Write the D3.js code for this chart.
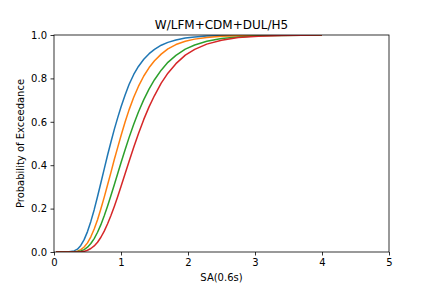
<!DOCTYPE html>
<html lang="en">
<head>
  <meta charset="UTF-8" />
  <title>W/LFM+CDM+DUL/H5</title>
  <script src="https://d3js.org/d3.v7.min.js"></script>
  <style>
    body { margin: 0; background: #fff; font-family: "DejaVu Sans", sans-serif; }
    svg { display: block; }
  </style>
</head>
<body>
<svg width="432" height="288"></svg>
<script>
// SA(0.6s) sample points shared by all curves
const sa = [0.03, 0.1, 0.2, 0.3, 0.35, 0.4, 0.45, 0.5, 0.55, 0.6, 0.65, 0.7, 0.75, 0.8, 0.85, 0.9, 0.95, 1.0,
            1.06, 1.12, 1.19, 1.26, 1.34, 1.42, 1.5, 1.6, 1.7, 1.82, 1.96, 2.1, 2.28, 2.5, 2.75, 3.05, 3.4, 4.0];

const blue = [0, 0, 0.0001, 0.005, 0.013, 0.030, 0.057, 0.094, 0.141, 0.195, 0.256, 0.319, 0.383, 0.447, 0.507, 0.565, 0.618, 0.668,
              0.722, 0.772, 0.818, 0.855, 0.888, 0.914, 0.934, 0.953, 0.966, 0.977, 0.986, 0.991, 0.995, 0.997, 0.9985, 0.9994, 0.9998, 1.0];
const orange = [0, 0, 0, 0.001, 0.004, 0.011, 0.023, 0.042, 0.070, 0.106, 0.149, 0.199, 0.253, 0.310, 0.367, 0.426, 0.481, 0.536,
                0.598, 0.655, 0.713, 0.763, 0.811, 0.850, 0.881, 0.912, 0.936, 0.956, 0.971, 0.981, 0.989, 0.994, 0.997, 0.9986, 0.9996, 1.0];
const green = [0, 0, 0, 0.0004, 0.002, 0.005, 0.011, 0.022, 0.039, 0.062, 0.091, 0.126, 0.167, 0.212, 0.260, 0.310, 0.361, 0.411,
               0.470, 0.527, 0.589, 0.645, 0.702, 0.752, 0.794, 0.838, 0.874, 0.906, 0.935, 0.954, 0.971, 0.984, 0.991, 0.996, 0.998, 0.9996];
const red = [0, 0, 0, 0.0001, 0.0004, 0.001, 0.003, 0.008, 0.016, 0.028, 0.045, 0.068, 0.096, 0.130, 0.168, 0.210, 0.255, 0.302,
             0.359, 0.417, 0.483, 0.545, 0.611, 0.670, 0.721, 0.778, 0.824, 0.868, 0.907, 0.934, 0.958, 0.976, 0.988, 0.994, 0.998, 0.9995];

const series = [
  { name: "1", values: blue, color: "#1f77b4" },
  { name: "2", values: orange, color: "#ff7f0e" },
  { name: "3", values: green, color: "#2ca02c" },
  { name: "4", values: red, color: "#d62728" }
];

const xTicks = [0, 1, 2, 3, 4, 5];
const yTicks = [0, 0.2, 0.4, 0.6, 0.8, 1.0];

const svg = d3.select("svg"),
      margin = { top: 35, right: 43, bottom: 36, left: 54 },
      width = 432 - margin.left - margin.right,
      height = 288 - margin.top - margin.bottom,
      g = svg.append("g").attr("transform", `translate(${margin.left},${margin.top})`);

const x = d3.scaleLinear().domain([0, 5]).range([0, width]);
const y = d3.scaleLinear().domain([0, 1]).range([height, 0]);

// clip so the curves stop at the frame
svg.append("defs").append("clipPath").attr("id", "clip")
  .append("rect").attr("width", width).attr("height", height);

const line = d3.line()
  .x((d, i) => x(sa[i]))
  .y(d => y(d));

g.append("g").attr("clip-path", "url(#clip)")
  .selectAll("path")
  .data(series)
  .enter()
  .append("path")
  .attr("d", d => line(d.values))
  .attr("fill", "none")
  .attr("stroke", d => d.color)
  .attr("stroke-width", 1.5)
  .attr("stroke-linejoin", "round");

// axes
const xAxis = g.append("g")
  .attr("transform", `translate(0,${height})`)
  .call(d3.axisBottom(x).tickValues(xTicks).tickFormat(d3.format("d")).tickSize(3.5).tickPadding(3.5));

const yAxis = g.append("g")
  .call(d3.axisLeft(y).tickValues(yTicks).tickFormat(d3.format(".1f")).tickSize(3.5).tickPadding(3.5));

[xAxis, yAxis].forEach(a => {
  a.select(".domain").remove();
  a.selectAll("line").attr("stroke", "#000").attr("stroke-width", 0.8);
  a.selectAll("text").attr("fill", "#000")
    .style("font-family", "DejaVu Sans").style("font-size", "10px");
});

// frame
g.append("rect")
  .attr("width", width)
  .attr("height", height)
  .attr("fill", "none")
  .attr("stroke", "#000")
  .attr("stroke-width", 0.8);

// title and labels
g.append("text")
  .attr("x", width / 2)
  .attr("y", -6)
  .attr("text-anchor", "middle")
  .style("font-size", "12px")
  .text("W/LFM+CDM+DUL/H5");

g.append("text")
  .attr("x", width / 2)
  .attr("y", height + 29)
  .attr("text-anchor", "middle")
  .style("font-size", "10px")
  .text("SA(0.6s)");

g.append("text")
  .attr("transform", "rotate(-90)")
  .attr("x", -height / 2)
  .attr("y", -30)
  .attr("text-anchor", "middle")
  .style("font-size", "10px")
  .text("Probability of Exceedance");
</script>
</body>
</html>
